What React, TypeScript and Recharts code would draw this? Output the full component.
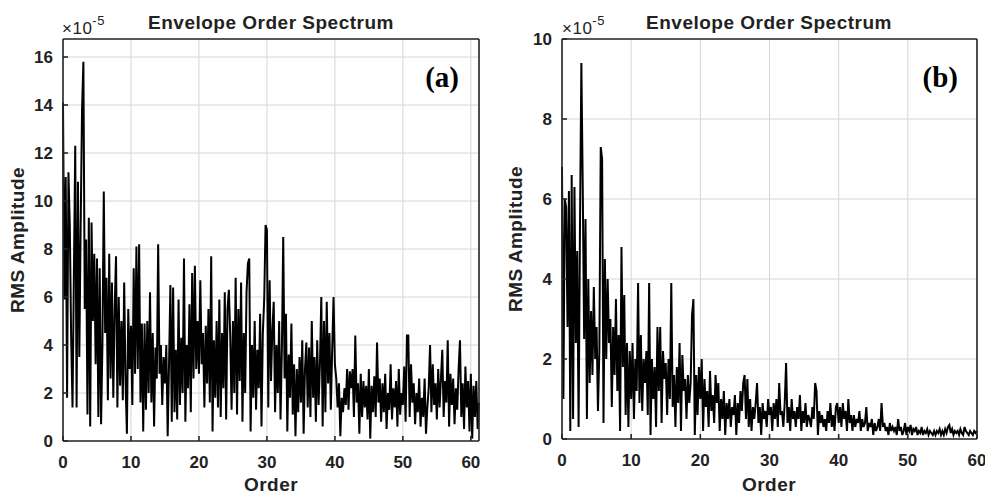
import React from "react";
import { LineChart, Line, XAxis, YAxis, CartesianGrid } from "recharts";

// sampling step of the order axis
const STEP = 0.2;

// (a) RMS amplitude (x1e-5), one value every 0.2 order, 0 .. 61.2
const ampA = [
  14.1, 5.9, 11.0, 1.8, 11.2, 9.0, 4.3, 1.4, 6.9, 12.3,
  1.4, 10.8, 3.5, 9.0, 13.8, 15.8, 5.5, 8.4, 1.1, 9.3,
  0.6, 9.1, 5.0, 7.8, 3.2, 7.6, 1.0, 7.2, 0.7, 4.0,
  10.4, 4.5, 6.8, 1.7, 7.8, 2.6, 6.6, 1.8, 5.5, 7.7,
  1.4, 6.0, 2.3, 5.0, 1.7, 6.6, 2.5, 0.3, 5.5, 3.0,
  4.8, 1.5, 7.2, 2.8, 8.1, 3.0, 8.2, 1.6, 4.9, 0.4,
  4.9, 1.3, 5.0, 2.0, 6.2, 1.6, 4.5, 0.6, 3.9, 2.6,
  8.2, 2.8, 4.0, 1.5, 3.5, 2.4, 4.0, 0.2, 3.2, 6.5,
  0.8, 6.4, 1.2, 3.8, 0.9, 5.9, 1.5, 4.3, 2.0, 7.6,
  0.8, 4.0, 2.2, 5.7, 1.2, 7.0, 2.6, 7.3, 3.0, 5.0,
  2.8, 6.7, 3.2, 4.5, 1.4, 4.8, 2.4, 5.5, 1.6, 7.7,
  0.4, 4.2, 1.8, 5.0, 1.4, 5.9, 1.0, 4.5, 2.2, 6.2,
  0.9, 5.5, 6.3, 4.4, 1.3, 5.0, 2.0, 6.8, 1.1, 5.5,
  2.5, 6.6, 0.8, 4.5, 2.0, 6.2, 7.4, 7.6, 0.4, 4.0,
  1.8, 5.0, 1.3, 3.8, 2.2, 5.3, 0.6, 4.5, 5.9, 9.0,
  8.8, 1.4, 6.7, 2.5, 4.6, 5.8, 1.2, 4.0, 2.0, 5.0,
  0.9, 3.8, 8.5, 2.6, 5.3, 0.4, 3.6, 1.8, 4.9, 1.1,
  3.2, 0.2, 3.0, 1.2, 3.5, 1.6, 4.2, 0.3, 3.0, 4.1,
  1.4, 3.9, 1.0, 5.0, 1.8, 3.5, 0.8, 4.2, 1.5, 3.2,
  6.0, 0.6, 5.0, 1.2, 5.8, 2.4, 4.5, 1.3, 3.8, 6.0,
  3.2, 2.6, 1.4, 2.4, 0.2, 1.8, 1.2, 2.2, 1.5, 3.0,
  1.3, 2.9, 2.2, 3.0, 1.0, 4.4, 1.6, 2.4, 0.3, 2.8,
  1.0, 2.5, 1.4, 2.3, 0.9, 3.0, 0.1, 2.3, 1.2, 2.7,
  1.0, 4.1, 1.6, 2.6, 0.8, 2.4, 1.2, 2.8, 0.5, 2.0,
  1.3, 3.2, 0.9, 2.2, 1.4, 2.5, 0.6, 3.0, 1.1, 2.0,
  1.5, 3.1, 0.8, 4.4, 4.4, 1.0, 3.2, 1.6, 2.4, 0.7,
  2.0, 1.2, 2.6, 0.6, 1.8, 1.0, 2.6, 0.3, 1.4, 2.2,
  4.0, 1.2, 3.2, 1.5, 2.4, 0.9, 3.0, 1.4, 2.6, 3.8,
  1.0, 2.5, 1.6, 4.2, 0.6, 2.8, 1.5, 2.6, 0.7, 2.2,
  1.3, 3.0, 4.2, 1.0, 2.4, 0.5, 3.1, 1.4, 2.5, 0.4,
  2.8, 0.1, 2.3, 1.0, 2.5, 0.5, 1.6,
];

// (b) RMS amplitude (x1e-5), one value every 0.2 order, 0 .. 60
const ampB = [
  6.8, 1.0, 6.0, 5.8, 2.8, 6.2, 0.2, 6.6, 0.5, 6.3,
  2.4, 4.7, 0.3, 5.3, 9.4, 6.3, 2.5, 5.5, 0.5, 4.0,
  1.4, 3.2, 1.6, 3.8, 2.0, 2.8, 0.7, 2.2, 7.3, 7.0,
  0.4, 4.5, 2.0, 4.0, 2.4, 3.0, 0.8, 2.8, 1.6, 3.5,
  1.2, 2.6, 0.2, 4.8, 1.8, 3.6, 0.6, 2.4, 0.3, 2.2,
  1.0, 2.4, 0.5, 2.0, 1.2, 3.9, 0.9, 2.6, 0.7, 2.0,
  1.4, 2.2, 0.6, 3.9, 0.1, 2.0, 1.0, 1.8, 0.3, 2.8,
  1.2, 2.8, 0.4, 2.2, 1.5, 1.9, 0.6, 2.0, 1.0, 3.9,
  0.8, 1.6, 0.3, 1.8, 0.9, 2.4, 0.2, 2.1, 1.2, 1.5,
  0.5, 1.6, 0.9, 1.4, 3.1, 3.5, 0.1, 1.6, 0.6, 1.8,
  1.0, 2.0, 0.2, 1.5, 0.8, 1.2, 0.3, 1.7, 0.7, 1.1,
  0.4, 1.6, 0.9, 1.4, 0.2, 1.0, 0.5, 1.2, 0.1, 0.9,
  0.5, 1.0, 0.3, 0.8, 0.6, 1.1, 0.1, 0.9, 0.4, 1.2,
  0.7, 1.4, 1.6, 0.5, 1.5, 0.3, 1.0, 0.2, 0.8, 0.5,
  0.9, 1.4, 0.4, 0.8, 0.1, 0.9, 0.5, 0.7, 0.3, 1.0,
  0.6, 0.8, 0.2, 0.9, 0.5, 1.0, 0.3, 1.4, 0.6, 0.7,
  0.3, 0.9, 1.9, 0.4, 0.8, 0.2, 1.0, 0.5, 0.7, 0.3,
  0.8, 0.5, 1.1, 0.2, 0.7, 0.4, 0.9, 0.3, 0.6, 0.5,
  0.3, 0.8, 0.5, 1.4, 1.2, 0.1, 0.7, 0.4, 0.6, 0.3,
  0.5, 0.2, 0.7, 0.4, 0.9, 0.3, 0.6, 0.2, 0.8, 0.9,
  0.4, 0.8, 0.3, 0.9, 0.5, 0.7, 0.2, 1.0, 0.4, 0.6,
  0.2, 0.6, 0.3, 0.5, 0.4, 0.7, 0.2, 0.5, 0.3, 0.4,
  0.8, 0.2, 0.4, 0.3, 0.5, 0.1, 0.4, 0.2, 0.3, 0.5,
  0.2, 0.9, 0.3, 0.4, 0.2, 0.3, 0.1, 0.4, 0.2, 0.3,
  0.2, 0.3, 0.1, 0.5, 0.2, 0.3, 0.1, 0.2, 0.4, 0.1,
  0.3, 0.2, 0.35, 0.1, 0.25, 0.2, 0.3, 0.1, 0.2, 0.15,
  0.3, 0.1, 0.2, 0.15, 0.25, 0.1, 0.2, 0.15, 0.1, 0.2,
  0.1, 0.2, 0.15, 0.25, 0.1, 0.2, 0.1, 0.25, 0.15, 0.3,
  0.35, 0.15, 0.25, 0.1, 0.2, 0.15, 0.2, 0.1, 0.25, 0.15,
  0.1, 0.3, 0.2, 0.15, 0.1, 0.2, 0.15, 0.1, 0.2, 0.15,
  0.2,
];

const orderTicks = [0, 10, 20, 30, 40, 50, 60];
const ampTicksA = [0, 2, 4, 6, 8, 10, 12, 14, 16];
const ampTicksB = [0, 2, 4, 6, 8, 10];

const toRows = (amps: number[]) =>
  amps.map((amp, i) => ({ order: Math.round(i * STEP * 10) / 10, amp }));

const FONT = "'Liberation Sans', Arial, Helvetica, sans-serif";
const INK = "#222";
const tickFont = { fontSize: 17, fontWeight: 700, fill: INK, fontFamily: FONT };
const frame = { stroke: "#262626", strokeWidth: 1.6 };

interface Box {
  left: number;
  right: number;
  top: number;
  bottom: number;
}

interface PanelProps {
  x: number;
  plot: Box;
  amps: number[];
  xMax: number;
  yMax: number;
  yTicks: number[];
}

const W = 490;
const H = 496;

function Panel({ x, plot, amps, xMax, yMax, yTicks }: PanelProps) {
  const data = toRows(amps);
  return (
    <div style={{ position: "absolute", left: x, top: 0 }}>
      <LineChart
        width={W}
        height={H}
        data={data}
        margin={{ top: plot.top - 1, right: W - (plot.right - x) - 1, bottom: 0, left: 0 }}
      >
        <CartesianGrid stroke="#d6d6d6" strokeWidth={1} />
        <XAxis
          dataKey="order"
          type="number"
          domain={[0, xMax]}
          ticks={orderTicks}
          interval={0}
          height={H - plot.bottom}
          tickSize={-5}
          tickMargin={20}
          tick={tickFont}
          axisLine={frame}
          tickLine={frame}
        />
        <YAxis
          type="number"
          domain={[0, yMax]}
          ticks={yTicks}
          interval={0}
          width={plot.left - x}
          tickSize={-5}
          tickMargin={15}
          tick={tickFont}
          axisLine={frame}
          tickLine={frame}
        />
        <XAxis
          xAxisId="top"
          orientation="top"
          type="number"
          domain={[0, xMax]}
          ticks={orderTicks}
          interval={0}
          height={1}
          tickSize={-5}
          tick={false}
          axisLine={frame}
          tickLine={frame}
        />
        <YAxis
          yAxisId="right"
          orientation="right"
          type="number"
          domain={[0, yMax]}
          ticks={yTicks}
          interval={0}
          width={1}
          tickSize={-5}
          tick={false}
          axisLine={frame}
          tickLine={frame}
        />
        <Line
          type="linear"
          dataKey="amp"
          stroke="#000"
          strokeWidth={2}
          dot={false}
          isAnimationActive={false}
        />
      </LineChart>
    </div>
  );
}

function Texts() {
  const title = { fontSize: 19, fontWeight: 700, fill: INK, fontFamily: FONT, letterSpacing: 0.5 };
  const axisLabel = { fontSize: 19, fontWeight: 700, fill: INK, fontFamily: FONT, letterSpacing: 0.5 };
  const mult = { fontSize: 17, fill: INK, fontFamily: FONT, letterSpacing: 0.5 };
  const tag = { fontSize: 29, fontWeight: 700, fill: "#000", fontFamily: "'Liberation Serif', 'Times New Roman', serif" };
  return (
    <svg width={985} height={496} style={{ position: "absolute", left: 0, top: 0, pointerEvents: "none" }}>
      <text x={271} y={29} textAnchor="middle" style={title}>Envelope Order Spectrum</text>
      <text x={769} y={29} textAnchor="middle" style={title}>Envelope Order Spectrum</text>

      <text x={62} y={34} style={mult}>
        ×10<tspan dy={-9} fontSize={13}>-5</tspan>
      </text>
      <text x={562} y={34} style={mult}>
        ×10<tspan dy={-9} fontSize={13}>-5</tspan>
      </text>

      <text x={459} y={87} textAnchor="end" style={tag}>(a)</text>
      <text x={958} y={87} textAnchor="end" style={tag}>(b)</text>

      <text x={271} y={491} textAnchor="middle" style={axisLabel}>Order</text>
      <text x={769} y={491} textAnchor="middle" style={axisLabel}>Order</text>

      <text x={24} y={240} textAnchor="middle" transform="rotate(-90 24 240)" style={axisLabel}>
        RMS Amplitude
      </text>
      <text x={522} y={239} textAnchor="middle" transform="rotate(-90 522 239)" style={axisLabel}>
        RMS Amplitude
      </text>
    </svg>
  );
}

export default function App() {
  return (
    <div style={{ position: "absolute", left: 0, top: 0, width: 985, height: 496, background: "#fff" }}>
      <Panel
        x={0}
        plot={{ left: 63, right: 479, top: 39, bottom: 441 }}
        amps={ampA}
        xMax={61.2}
        yMax={16.75}
        yTicks={ampTicksA}
      />
      <Panel
        x={495}
        plot={{ left: 562, right: 977, top: 39, bottom: 439 }}
        amps={ampB}
        xMax={60}
        yMax={10}
        yTicks={ampTicksB}
      />
      <Texts />
    </div>
  );
}
